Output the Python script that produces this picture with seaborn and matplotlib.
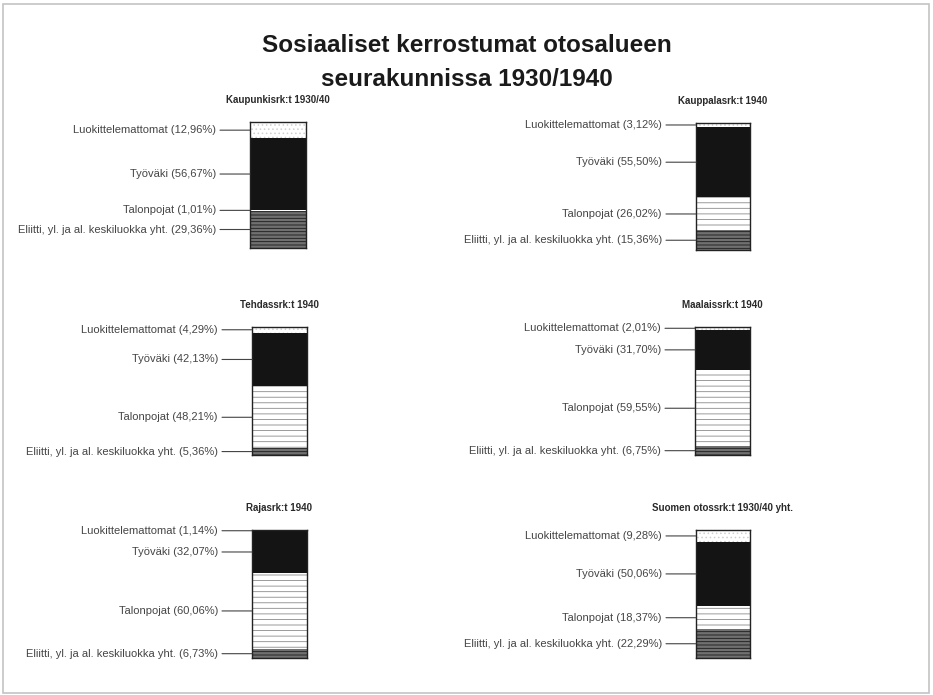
import matplotlib
matplotlib.use("Agg")
import matplotlib.pyplot as plt
from matplotlib.patches import Rectangle
import seaborn as sns
import pandas as pd
import numpy as np

# data (percent shares, top -> bottom in each bar)
categories = ["Luokittelemattomat", "Työväki", "Talonpojat",
              "Eliitti, yl. ja al. keskiluokka yht."]
panel_titles = ["Kaupunkisrk:t 1930/40", "Kauppalasrk:t 1940",
                "Tehdassrk:t 1940", "Maalaissrk:t 1940",
                "Rajasrk:t 1940", "Suomen otossrk:t 1930/40 yht."]
kaupunki = [12.96, 56.67, 1.01, 29.36]
kauppala = [3.12, 55.50, 26.02, 15.36]
tehdas = [4.29, 42.13, 48.21, 5.36]
maalais = [2.01, 31.70, 59.55, 6.75]
raja = [1.14, 32.07, 60.06, 6.73]
suomi = [9.28, 50.06, 18.37, 22.29]
shares = [kaupunki, kauppala, tehdas, maalais, raja, suomi]
value_labels = [
    ["12,96%", "56,67%", "1,01%", "29,36%"],
    ["3,12%", "55,50%", "26,02%", "15,36%"],
    ["4,29%", "42,13%", "48,21%", "5,36%"],
    ["2,01%", "31,70%", "59,55%", "6,75%"],
    ["1,14%", "32,07%", "60,06%", "6,73%"],
    ["9,28%", "50,06%", "18,37%", "22,29%"],
]

sns.set_theme(style="white")
plt.rcParams['font.family'] = ['Liberation Sans', 'DejaVu Sans']
plt.rcParams['hatch.linewidth'] = 0.6

W, H = 933, 695
fig = plt.figure(figsize=(W / 100, H / 100), dpi=100)
fig.patch.set_facecolor("white")

# page frame of the scanned sheet
fig.add_artist(Rectangle((3 / W, 2 / H), 926 / W, 689 / H, transform=fig.transFigure,
                         fill=False, edgecolor="#c4c4c4", linewidth=1.2))

fig.text(0.5, 1 - 46 / H, "Sosiaaliset kerrostumat otosalueen", ha="center", va="center",
         fontsize=17.5, fontweight="bold", color="#1a1a1a")
fig.text(0.5, 1 - 79 / H, "seurakunnissa 1930/1940", ha="center", va="center",
         fontsize=17.5, fontweight="bold", color="#1a1a1a")

# segment styles (face, hatch, hatch colour), same order as categories
styles = [
    ("white", "....", "#cfcfcf"),
    ("#141414", None, "#141414"),
    ("white", "---", "#8a8a8a"),
    ("#707070", "-----", "#1a1a1a"),
]

# bar boxes in pixels: left, top, right, bottom
boxes = [(250, 122, 306, 248), (696, 123, 750, 250),
         (252, 327, 307, 455), (695, 327, 750, 455),
         (252, 530, 307, 658), (696, 530, 750, 658)]

for title, vals, labs, (x0, y0, x1, y1) in zip(panel_titles, shares, value_labels, boxes):
    ax = fig.add_axes([x0 / W, 1 - y1 / H, (x1 - x0) / W, (y1 - y0) / H])
    vals = np.array(vals)
    # cumulative heights from the bottom; draw tallest first, overlay the rest
    cum = np.cumsum(vals[::-1])[::-1]  # index 0 = full bar (top category)
    for i, c in enumerate(cum):
        face, hatch, hcol = styles[i]
        df = pd.DataFrame({"g": ["x"], "v": [c]})
        sns.barplot(data=df, x="g", y="v", ax=ax, color=face, saturation=1,
                    width=1.0, hatch=hatch, edgecolor=hcol, linewidth=0)
    ax.set_xlim(-0.5, 0.5)
    ax.set_ylim(0, max(cum[0], 100))
    ax.set_xlabel("")
    ax.set_ylabel("")
    ax.set_xticks([])
    ax.set_yticks([])
    for s in ax.spines.values():
        s.set_visible(True)
        s.set_color("#222222")
        s.set_linewidth(1.0)

    ax.set_title(title, fontsize=7, fontweight="bold", color="#2a2a2a", pad=14)

    # labels with leader lines at segment midpoints
    mids = [(cum[i] + (cum[i + 1] if i + 1 < len(cum) else 0)) / 2 for i in range(len(cum))]
    for cat, lab, m in zip(categories, labs, mids):
        ax.annotate(f"{cat} ({lab})", xy=(-0.5, m), xycoords="data",
                    xytext=(-34, 0), textcoords="offset pixels",
                    ha="right", va="center", fontsize=8, color="#454545",
                    annotation_clip=False)
        ax.annotate("", xy=(-0.5, m), xycoords="data",
                    xytext=(-30, 0), textcoords="offset pixels",
                    arrowprops=dict(arrowstyle="-", color="#444444", lw=0.8,
                                    shrinkA=0, shrinkB=0),
                    annotation_clip=False)

fig.savefig("out.png", dpi=100)
